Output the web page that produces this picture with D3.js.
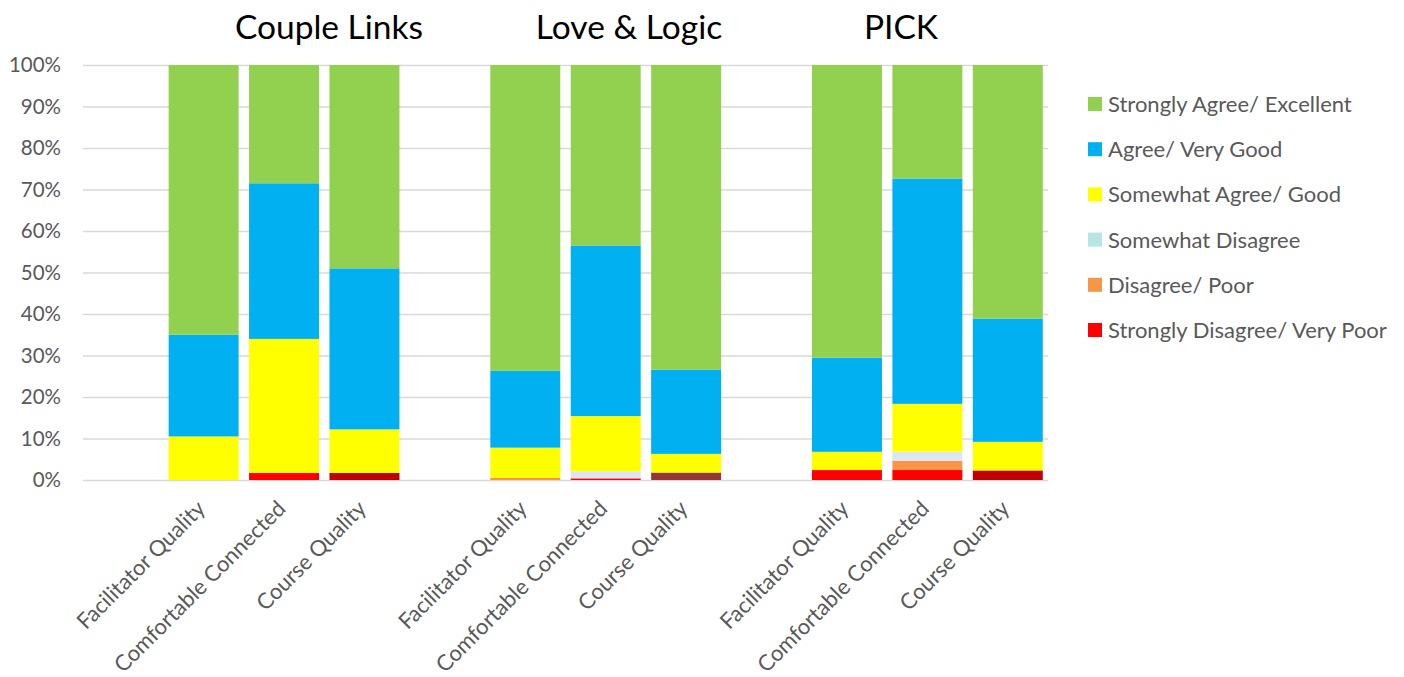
<!DOCTYPE html>
<html>
<head>
<meta charset="utf-8">
<script src="https://cdn.jsdelivr.net/npm/d3@7"></script>
<style>
  body { margin: 0; background: #fff; }
  text { font-family: Lato, "Open Sans", sans-serif; }
</style>
</head>
<body>
<div id="canvas"></div>
<script>
// Data (percent of responses per segment)
const groups = ["Couple Links", "Love & Logic", "PICK"];
const questions = ["Facilitator Quality", "Comfortable Connected", "Course Quality"];
const seriesNames = [
  "Strongly Agree/ Excellent",
  "Agree/ Very Good",
  "Somewhat Agree/ Good",
  "Somewhat Disagree",
  "Disagree/ Poor",
  "Strongly Disagree/ Very Poor"
];
const stronglyAgree     = [65.0, 28.5, 49.0, 73.7, 43.5, 73.4, 70.5, 27.35, 61.1];
const agree             = [24.5, 37.5, 38.8, 18.5, 41.1, 20.3, 22.7, 54.3, 29.7];
const somewhatAgree     = [10.5, 32.3, 10.5, 7.3, 13.3, 4.5, 4.4, 11.5, 6.9];
const somewhatDisagree  = [0, 0, 0, 0, 1.7, 0, 0, 2.2, 0];
const disagree          = [0, 0, 0, 0.5, 0, 0, 0, 2.25, 0];
const stronglyDisagree  = [0, 1.7, 1.7, 0, 0.4, 1.8, 2.4, 2.4, 2.3];
const yTicks = [0, 10, 20, 30, 40, 50, 60, 70, 80, 90, 100];

// Colours
const seriesColors = ["#92D050", "#00B0F0", "#FFFF00", "#B7E4E4", "#F79646", "#FF0000"];
// a few points were recoloured in the original workbook
const pointColors = {
  "Somewhat Disagree": "#DCE6F2",
  "Strongly Disagree/ Very Poor": { 2: "#C00000", 5: "#953735", 8: "#C00000" }
};

// Constants
const w = 1404;
const h = 677;
const plotLeft = 83, plotRight = 1048, plotTop = 65, plotBottom = 480;
const grey = "#595959";

const svg = d3.select("#canvas").append("svg")
  .attr("width", w)
  .attr("height", h)
  .style("background-color", "white");

// one empty slot before each group of three bars
const slots = [];
groups.forEach((g, gi) => {
  slots.push(`gap${gi}`);
  questions.forEach(q => slots.push(`${g}|${q}`));
});
const bars = slots.filter(s => !s.startsWith("gap"));

const x = d3.scaleBand().domain(slots).range([plotLeft, plotRight]).paddingInner(0.13).paddingOuter(0.065);
const y = d3.scaleLinear().domain([0, 100]).range([plotBottom, plotTop]);
const color = d3.scaleOrdinal().domain(seriesNames).range(seriesColors);

const rows = bars.map((key, i) => ({
  key,
  "Strongly Agree/ Excellent": stronglyAgree[i],
  "Agree/ Very Good": agree[i],
  "Somewhat Agree/ Good": somewhatAgree[i],
  "Somewhat Disagree": somewhatDisagree[i],
  "Disagree/ Poor": disagree[i],
  "Strongly Disagree/ Very Poor": stronglyDisagree[i]
}));

// bottom of the stack is the last series
const stackKeys = seriesNames.slice().reverse();
const stacked = d3.stack().keys(stackKeys)(rows);

// Gridlines + y axis
const yAxis = svg.append("g")
  .attr("transform", `translate(${plotLeft},0)`)
  .call(d3.axisLeft(y).tickValues(yTicks).tickSize(-(plotRight - plotLeft)).tickFormat(d => d + "%"));
yAxis.select(".domain").remove();
yAxis.selectAll(".tick line").attr("stroke", "#D9D9D9").attr("stroke-width", 1.3);
yAxis.selectAll(".tick text")
  .attr("x", -22)
  .attr("fill", grey)
  .style("font-size", "20.5px");

// Bars
function fillFor(name, i) {
  const o = pointColors[name];
  if (typeof o === "string") return o;
  if (o && o[i]) return o[i];
  return color(name);
}

svg.append("g").selectAll("g")
  .data(stacked)
  .join("g")
  .selectAll("rect")
  .data(s => s.map((d, i) => ({ name: s.key, i, y0: d[0], y1: d[1], key: d.data.key })))
  .join("rect")
  .attr("x", d => x(d.key))
  .attr("width", x.bandwidth())
  .attr("y", d => y(d.y1))
  .attr("height", d => y(d.y0) - y(d.y1))
  .attr("fill", d => fillFor(d.name, d.i));

// Category labels, rotated
svg.append("g").selectAll("text")
  .data(bars)
  .join("text")
  .attr("transform", d => `translate(${x(d) + x.bandwidth() / 2 + 3},${plotBottom + 30}) rotate(-45)`)
  .attr("text-anchor", "end")
  .attr("fill", grey)
  .style("font-size", "22px")
  .text(d => d.split("|")[1]);

// Group titles
const titleX = [329, 629, 901];
svg.append("g").selectAll("text")
  .data(groups)
  .join("text")
  .attr("x", (d, i) => titleX[i])
  .attr("y", 39)
  .attr("text-anchor", "middle")
  .attr("fill", "#000")
  .style("font-size", "33.5px")
  .text(d => d);

// Legend
const legend = svg.append("g").attr("transform", "translate(1088,104)");
seriesNames.forEach((name, i) => {
  const row = legend.append("g").attr("transform", `translate(0,${i * 45.2})`);
  row.append("rect")
    .attr("x", 0).attr("y", -7)
    .attr("width", 14).attr("height", 14)
    .attr("fill", color(name));
  row.append("text")
    .attr("x", 20)
    .attr("y", 8)
    .attr("fill", grey)
    .style("font-size", "22px")
    .text(name);
});
</script>
</body>
</html>
